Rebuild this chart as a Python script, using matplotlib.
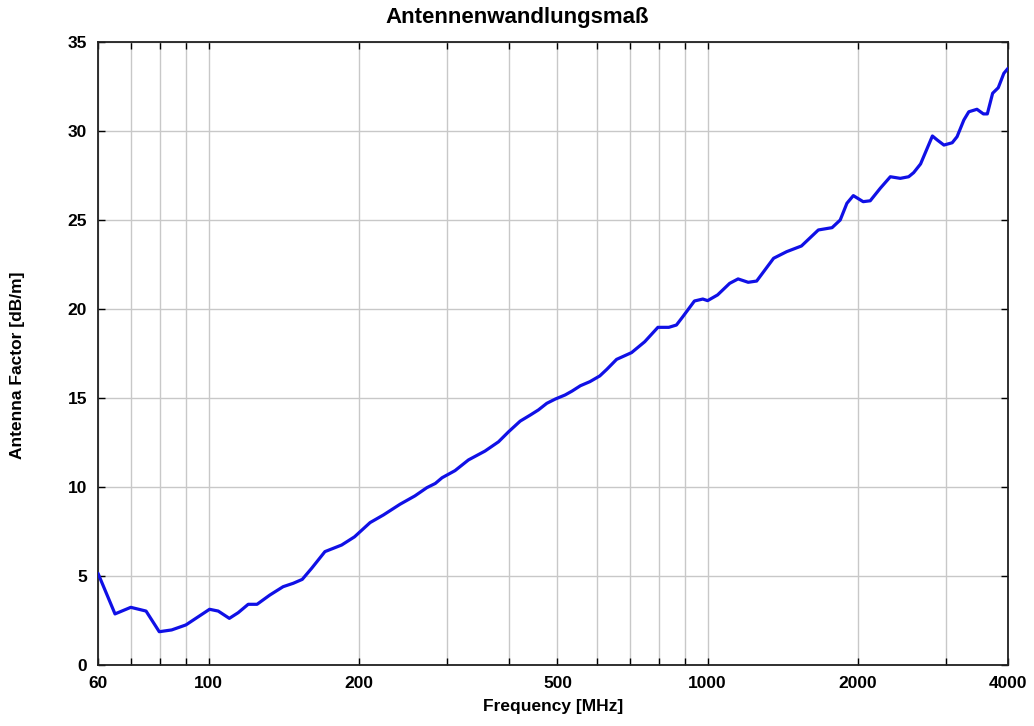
import matplotlib
matplotlib.use("Agg")
import matplotlib.pyplot as plt

freq_mhz = [60, 64.9, 69.8, 74.9, 79.6, 84.3, 90, 100.4, 104.5, 110, 114.6, 120, 125,
            132.6, 141, 147.7, 154, 160.8, 171, 184.7, 196, 210.6, 224, 241.8, 259,
            273.6, 284.6, 293.6, 311.7, 331.6, 358, 381, 399, 421, 441, 458, 476, 495,
            518, 535, 556, 581, 608, 628, 657, 704, 748, 795, 836, 866, 892, 941, 978,
            1000, 1047, 1107, 1151, 1206, 1254, 1356, 1440, 1542, 1667, 1776, 1844,
            1902, 1959, 2050, 2118, 2218, 2324, 2433, 2529, 2588, 2672, 2737, 2822,
            2887, 2976, 3092, 3162, 3263, 3338, 3466, 3571, 3636, 3726, 3824, 3924, 4000]
antenna_factor = [5.15, 2.87, 3.24, 3.03, 1.87, 1.97, 2.25, 3.13, 3.03, 2.62, 2.94, 3.41,
                  3.41, 3.93, 4.4, 4.59, 4.81, 5.43, 6.37, 6.74, 7.2, 8.0, 8.43, 9.03,
                  9.5, 9.96, 10.2, 10.52, 10.92, 11.52, 12.02, 12.54, 13.1, 13.7, 14.04,
                  14.33, 14.7, 14.94, 15.17, 15.39, 15.69, 15.92, 16.24, 16.61, 17.17,
                  17.55, 18.16, 18.97, 18.97, 19.1, 19.57, 20.45, 20.56, 20.47, 20.79,
                  21.44, 21.69, 21.5, 21.57, 22.85, 23.22, 23.54, 24.44, 24.57, 25.0,
                  25.94, 26.37, 26.03, 26.08, 26.78, 27.43, 27.34, 27.43, 27.66, 28.15,
                  28.84, 29.72, 29.49, 29.21, 29.34, 29.68, 30.62, 31.08, 31.22, 30.96,
                  30.96, 32.12, 32.43, 33.24, 33.52]

x_grid = [60, 70, 80, 90, 100, 200, 300, 400, 500, 600, 700, 800, 900, 1000, 2000, 3000, 4000]
x_labeled = [60, 100, 200, 500, 1000, 2000, 4000]
y_ticks = [0, 5, 10, 15, 20, 25, 30, 35]

title = "Antennenwandlungsmaß"
xlabel = "Frequency [MHz]"
ylabel = "Antenna Factor [dB/m]"

plt.rcParams['font.family'] = ['Liberation Sans', 'DejaVu Sans']
plt.rcParams['font.weight'] = 'bold'

fig = plt.figure(figsize=(10.34, 7.26), dpi=100)
ax = fig.add_axes([98/1034, 1 - 665/726, (1008-98)/1034, (665-42)/726])

ax.plot(freq_mhz, antenna_factor, color='#1010e6', linewidth=2.3, zorder=3,
        solid_joinstyle='round', solid_capstyle='round')
ax.set_xscale('log')
ax.set_xlim(60, 4000)
ax.set_ylim(0, 35)

ax.xaxis.set_minor_locator(matplotlib.ticker.NullLocator())
ax.set_xticks(x_grid)
ax.set_xticklabels([str(v) if v in x_labeled else '' for v in x_grid])
ax.set_yticks(y_ticks)
ax.set_yticklabels([str(v) for v in y_ticks])

ax.grid(True, color='#c8c8c8', linewidth=1.0, zorder=0)
ax.tick_params(direction='in', length=5, width=1.0, top=True, right=True,
               labelsize=12.5, pad=8, colors='black')
for lbl in ax.get_xticklabels() + ax.get_yticklabels():
    lbl.set_fontweight('bold')
for s in ax.spines.values():
    s.set_linewidth(1.3)
    s.set_color('#202020')

fig.text(0.5, 1 - 18/726, title, fontsize=16, fontweight='bold', ha='center', va='center')
ax.set_xlabel(xlabel, fontsize=12.5, fontweight='bold', labelpad=6)
fig.text(18/1034, 1 - 365/726, ylabel, fontsize=12.5, fontweight='bold',
         rotation=90, ha='center', va='center')

fig.savefig('out.png', dpi=100)
